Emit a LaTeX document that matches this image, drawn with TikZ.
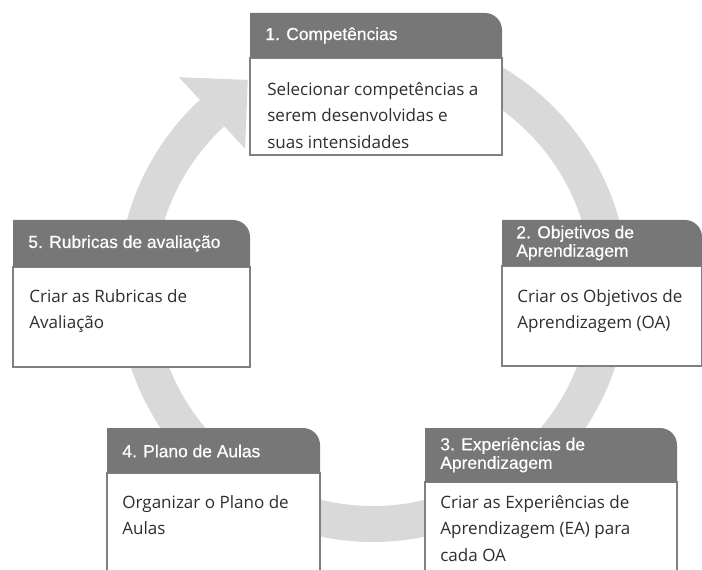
\documentclass[tikz,border=0pt]{standalone}
\usepackage{fontspec}
\setmainfont{Open Sans}
\newfontfamily\hdrfont[FakeBold=0.5]{Liberation Sans}
\usepackage{tikz}

\definecolor{hdrgray}{HTML}{777777}
\definecolor{ringgray}{HTML}{D9D9D9}
\definecolor{linegray}{HTML}{808080}
\definecolor{txtgray}{HTML}{2E2E2E}

\tikzset{
  hdr/.style={fill=hdrgray},
  bodybox/.style={draw=linegray, fill=white, line width=0.03cm},
  hdrtext/.style={anchor=west, inner sep=0pt, text=white, align=left, font=\hdrfont\fontsize{9.9}{10.5}\selectfont},
  bodytext/.style={anchor=north west, inner sep=0pt, text=txtgray, align=left, font=\fontsize{9.7}{15}\selectfont},
}

\begin{document}
\begin{tikzpicture}[x=0.02cm, y=-0.02cm]
\useasboundingbox (0,0) rectangle (702,570);

\draw[ringgray, line width=0.72cm] (373,287) ++(-90:237) arc[start angle=-90, end angle=227.2, radius=237];
\fill[ringgray] (178.9,77.2) -- (247.8,79.9) -- (245.1,148.8) -- cycle;

\foreach \xa/\xb/\ya/\yb/\yc in {250/502/13/58/155, 13/250/220/267/367, 502/702/220/266/366, 425/677/428/482/590, 107/320/428/473/590}
{
\draw[bodybox] (\xa,\yb) rectangle (\xb,\yc);
\fill[hdr] (\xa,\yb) -- (\xa,\ya) -- (\xb-17,\ya) arc[start angle=-90, end angle=0, radius=17] -- (\xb,\yb) -- cycle;
}

    \node[hdrtext] (h1) at (265,35.5) {1. Competências};
    \node[hdrtext] (h2) at (516,243) {2. Objetivos de\\Aprendizagem};
    \node[hdrtext] (h3) at (440,455) {3. Experiências de\\Aprendizagem};
    \node[hdrtext] (h4) at (122,451) {4. Plano de Aulas};
    \node[hdrtext] (h5) at (28,243.5) {5. Rubricas de avaliação};

    \node[bodytext] (b1) at (267,82) {Selecionar competências a\\serem desenvolvidas e\\suas intensidades};
    \node[bodytext] (b2) at (517,289) {Criar os Objetivos de\\Aprendizagem (OA)};
    \node[bodytext] (b3) at (440,495) {Criar as Experiências de\\Aprendizagem (EA) para\\cada OA};
    \node[bodytext] (b4) at (122,495) {Organizar o Plano de\\Aulas};
    \node[bodytext] (b5) at (29,289) {Criar as Rubricas de\\Avaliação};

\end{tikzpicture}
\end{document}
